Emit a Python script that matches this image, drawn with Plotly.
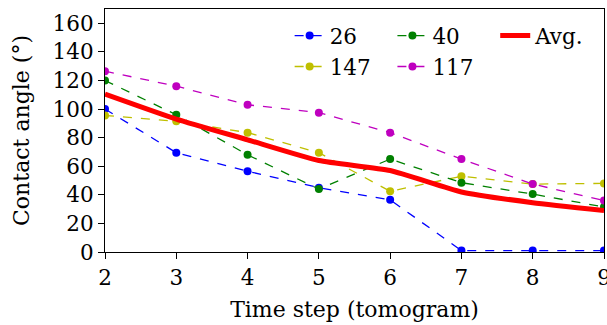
import plotly.graph_objects as go

time_steps = [2, 3, 4, 5, 6, 7, 8, 9]
s26 = [100, 69.5, 56.5, 45, 36.5, 1, 1, 1]
s40 = [120, 96, 68, 44, 65, 48.5, 40.5, 31.5]
s147 = [95.5, 91.5, 83.5, 69.5, 42.5, 53, 47.5, 48]
s117 = [126.5, 116, 103, 97.5, 83.5, 65, 47.5, 36]
avg = [110.5, 93, 78.5, 64, 57, 42, 34.5, 29]

y_ticks = [0, 20, 40, 60, 80, 100, 120, 140, 160]

FONT = "DejaVu Serif"
FS = 21.5

fig = go.Figure()

def series(name, y, color, legend):
    fig.add_trace(go.Scatter(
        x=time_steps, y=y, name=name, mode="lines+markers",
        line=dict(color=color, width=1.3, dash="dash"),
        marker=dict(color=color, size=8),
        legend=legend,
    ))

series("26", s26, "#0000ff", "legend")
series("147", s147, "#bfbf00", "legend")
series("40", s40, "#008000", "legend2")
series("117", s117, "#bf00bf", "legend2")
fig.add_trace(go.Scatter(
    x=time_steps, y=avg, name="Avg.", mode="lines",
    line=dict(color="#ff0000", width=5, shape="spline", smoothing=0.5),
    legend="legend3",
))

def leg(x):
    return dict(orientation="v", x=x, y=0.975, xanchor="left", yanchor="top",
                bgcolor="rgba(0,0,0,0)", font=dict(family=FONT, size=FS),
                tracegroupgap=0, itemwidth=30, traceorder="normal")

fig.update_layout(
    width=607, height=325,
    margin=dict(l=105, r=3, t=9, b=73),
    plot_bgcolor="white", paper_bgcolor="white",
    font=dict(family=FONT, size=FS, color="black"),
    showlegend=True,
    legend=leg(0.37),
    legend2=leg(0.576),
    legend3=leg(0.782),
    xaxis=dict(range=[2, 9], tickvals=time_steps, ticks="outside", ticklen=6,
               tickcolor="black", showline=True, linecolor="black", linewidth=1.2,
               mirror=True, showgrid=False, zeroline=False, automargin=False,
               ticklabeloverflow="allow",
               title=dict(text="Time step (tomogram)", standoff=12,
                          font=dict(family=FONT, size=22))),
    yaxis=dict(range=[0, 170], tickvals=y_ticks, ticks="outside", ticklen=6,
               tickcolor="black", showline=True, linecolor="black", linewidth=1.2,
               mirror=True, showgrid=False, zeroline=False, automargin=False,
               title=dict(text="Contact angle (°)", standoff=16,
                          font=dict(family=FONT, size=22))),
)

fig.write_html("out.html", config={"displayModeBar": False},
               post_script="document.body.style.margin='0';")
